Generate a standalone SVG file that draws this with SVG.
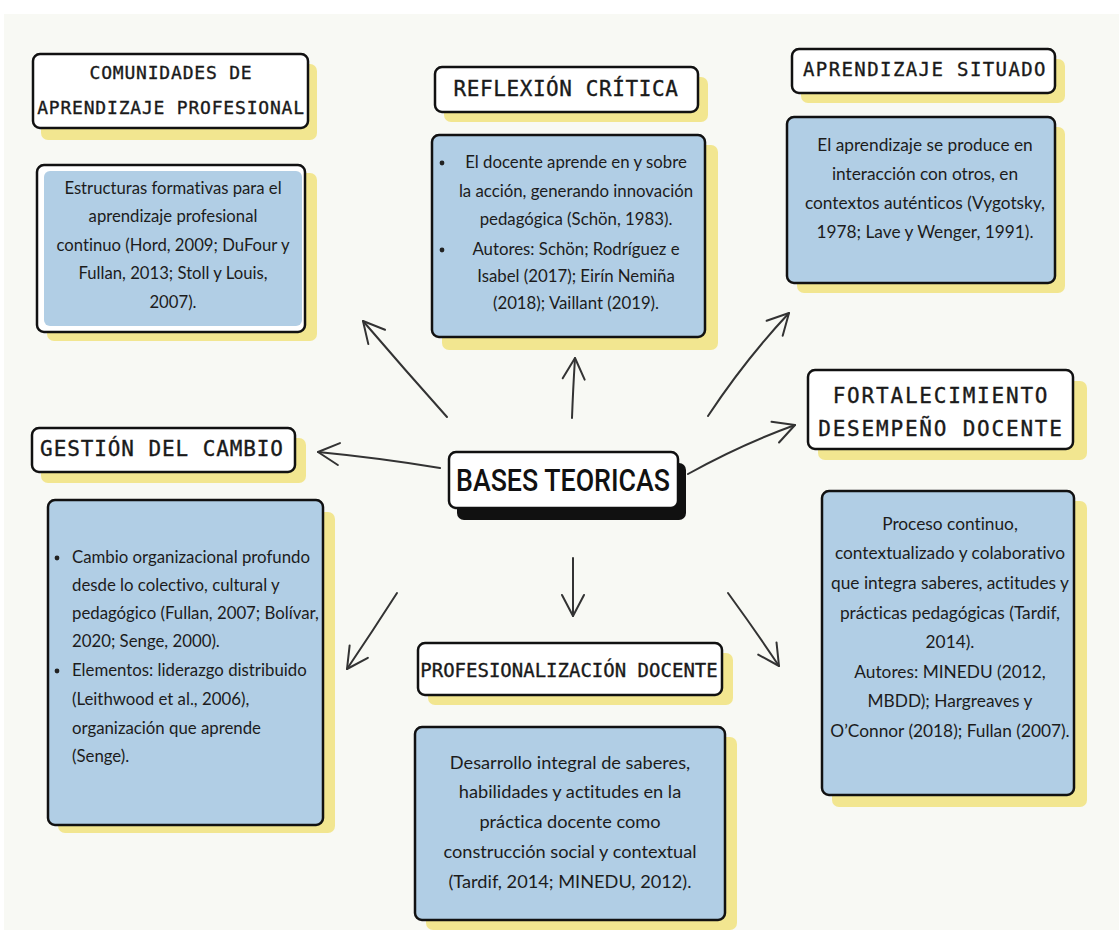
<svg xmlns="http://www.w3.org/2000/svg" width="1119" height="930" viewBox="0 0 1119 930">
<defs>
<style>
.bg{fill:#f8f9f4}
.sh{fill:#f2e690}
.blk{fill:#111}
.ttl{fill:#fff;stroke:#111;stroke-width:2.5}
.box{fill:#b1cee5;stroke:#111;stroke-width:2.5}
.t{font-family:"DejaVu Sans Mono",monospace;fill:#1a1a1a;stroke:#1a1a1a;stroke-width:0.35;text-anchor:middle}
.b{font-family:Lato,"Open Sans",sans-serif;fill:#1c1c1c;text-anchor:middle;font-variant-ligatures:none}
.bl{font-family:Lato,"Open Sans",sans-serif;fill:#1c1c1c;font-variant-ligatures:none}
.c{fill:none;stroke:#333;stroke-width:2;stroke-linecap:round}
</style>
<marker id="ah" viewBox="0 0 26 26" refX="23" refY="13" markerWidth="26" markerHeight="26" markerUnits="userSpaceOnUse" orient="auto">
<path d="M2,2 L23,13 L2,24" fill="none" stroke="#333" stroke-width="2" stroke-linecap="round" stroke-linejoin="round"/>
</marker>
</defs>
<rect width="1119" height="930" fill="#fff"/>
<rect class="bg" x="4" y="14" width="1115" height="916"/>

<g id="connectors">
<path class="c" d="M447,417 Q405,370 363,321" marker-end="url(#ah)"/>
<path class="c" d="M572,418 Q573,390 575,358" marker-end="url(#ah)"/>
<path class="c" d="M708,416 Q745,360 789,313" marker-end="url(#ah)"/>
<path class="c" d="M688,474 Q740,445 795,425" marker-end="url(#ah)"/>
<path class="c" d="M440,468 Q380,458 318,452" marker-end="url(#ah)"/>
<path class="c" d="M397,593 Q372,632 347,669" marker-end="url(#ah)"/>
<path class="c" d="M573,558 Q573,590 573,616" marker-end="url(#ah)"/>
<path class="c" d="M728,593 Q755,630 779,666" marker-end="url(#ah)"/>
</g>

<g id="bases-teoricas">
<rect class="blk" x="457" y="463" width="229" height="57" rx="7"/>
<rect class="ttl" x="449" y="452" width="229" height="56" rx="7"/>
<text x="563" y="491" font-family="Roboto,'Liberation Sans',sans-serif" font-weight="500" font-size="31" fill="#111" text-anchor="middle" textLength="214" lengthAdjust="spacingAndGlyphs">BASES TEORICAS</text>
</g>

<g id="comunidades-titulo">
<rect class="sh" x="41" y="64" width="276" height="76" rx="7"/>
<rect class="ttl" x="33" y="54" width="275" height="74" rx="7"/>
<text class="t" x="171" y="79" font-size="18" letter-spacing="0.8">COMUNIDADES DE</text>
<text class="t" x="171" y="114" font-size="18" letter-spacing="0.8">APRENDIZAJE PROFESIONAL</text>
</g>

<g id="comunidades-texto">
<rect class="sh" x="47" y="173" width="270" height="168" rx="7"/>
<rect class="ttl" x="37" y="165" width="268" height="167" rx="7"/>
<rect fill="#b1cee5" x="44" y="171" width="258" height="155" rx="6"/>
<text class="b" x="173" y="194" font-size="16.7">Estructuras formativas para el</text>
<text class="b" x="173" y="222" font-size="16.7">aprendizaje profesional</text>
<text class="b" x="173" y="251" font-size="16.7">continuo (Hord, 2009; DuFour y</text>
<text class="b" x="173" y="279" font-size="16.7">Fullan, 2013; Stoll y Louis,</text>
<text class="b" x="173" y="308" font-size="16.7">2007).</text>
</g>

<g id="reflexion-titulo">
<rect class="sh" x="444" y="77" width="264" height="45" rx="7"/>
<rect class="ttl" x="435" y="67" width="263" height="45" rx="7"/>
<text class="t" x="566" y="96" font-size="21" letter-spacing="0.6">REFLEXIÓN CRÍTICA</text>
</g>

<g id="reflexion-texto">
<rect class="sh" x="442" y="145" width="276" height="205" rx="7"/>
<rect class="box" x="432" y="135" width="273" height="202" rx="7"/>
<circle cx="442" cy="163" r="2.4" fill="#222"/>
<circle cx="442" cy="250" r="2.4" fill="#222"/>
<text class="b" x="576" y="168" font-size="16.8">El docente aprende en y sobre</text>
<text class="b" x="576" y="197" font-size="16.8">la acción, generando innovación</text>
<text class="b" x="576" y="225" font-size="16.8">pedagógica (Schön, 1983).</text>
<text class="b" x="576" y="255" font-size="16.8">Autores: Schön; Rodríguez e</text>
<text class="b" x="576" y="282" font-size="16.8">Isabel (2017); Eirín Nemiña</text>
<text class="b" x="576" y="309" font-size="16.8">(2018); Vaillant (2019).</text>
</g>

<g id="situado-titulo">
<rect class="sh" x="801" y="59" width="264" height="44" rx="7"/>
<rect class="ttl" x="792" y="49" width="263" height="44" rx="7"/>
<text class="t" x="925" y="76" font-size="19" letter-spacing="1.4">APRENDIZAJE SITUADO</text>
</g>

<g id="situado-texto">
<rect class="sh" x="797" y="127" width="268" height="166" rx="7"/>
<rect class="box" x="787" y="117" width="268" height="166" rx="7"/>
<text class="b" x="925" y="151" font-size="17.3">El aprendizaje se produce en</text>
<text class="b" x="925" y="180" font-size="17.3">interacción con otros, en</text>
<text class="b" x="925" y="209" font-size="17.3">contextos auténticos (Vygotsky,</text>
<text class="b" x="925" y="238" font-size="17.3">1978; Lave y Wenger, 1991).</text>
</g>

<g id="fortalecimiento-titulo">
<rect class="sh" x="818" y="381" width="269" height="79" rx="7"/>
<rect class="ttl" x="808" y="370" width="265" height="79" rx="7"/>
<text class="t" x="941" y="403" font-size="21" letter-spacing="1.8">FORTALECIMIENTO</text>
<text class="t" x="941" y="436" font-size="21" letter-spacing="1.8">DESEMPEÑO DOCENTE</text>
</g>

<g id="fortalecimiento-texto">
<rect class="sh" x="832" y="501" width="255" height="306" rx="7"/>
<rect class="box" x="822" y="491" width="252" height="304" rx="7"/>
<text class="b" x="950" y="530" font-size="17.3">Proceso continuo,</text>
<text class="b" x="950" y="559" font-size="17.3">contextualizado y colaborativo</text>
<text class="b" x="950" y="589" font-size="17.3">que integra saberes, actitudes y</text>
<text class="b" x="950" y="619" font-size="17.3">prácticas pedagógicas (Tardif,</text>
<text class="b" x="950" y="648" font-size="17.3">2014).</text>
<text class="b" x="950" y="678" font-size="17.3">Autores: MINEDU (2012,</text>
<text class="b" x="950" y="707" font-size="17.3">MBDD); Hargreaves y</text>
<text class="b" x="950" y="737" font-size="17.3">O’Connor (2018); Fullan (2007).</text>
</g>

<g id="gestion-titulo">
<rect class="sh" x="41" y="438" width="265" height="45" rx="7"/>
<rect class="ttl" x="32" y="428" width="263" height="44" rx="7"/>
<text class="t" x="162" y="456" font-size="21" letter-spacing="0.9">GESTIÓN DEL CAMBIO</text>
</g>

<g id="gestion-texto">
<rect class="sh" x="58" y="512" width="277" height="321" rx="7"/>
<rect class="box" x="48" y="500" width="275" height="325" rx="7"/>
<circle cx="57" cy="558" r="2.4" fill="#222"/>
<circle cx="57" cy="671" r="2.4" fill="#222"/>
<text class="bl" x="72" y="563" font-size="16.8">Cambio organizacional profundo</text>
<text class="bl" x="72" y="591" font-size="16.8">desde lo colectivo, cultural y</text>
<text class="bl" x="72" y="619" font-size="16.8">pedagógico (Fullan, 2007; Bolívar,</text>
<text class="bl" x="72" y="647" font-size="16.8">2020; Senge, 2000).</text>
<text class="bl" x="72" y="676" font-size="16.8">Elementos: liderazgo distribuido</text>
<text class="bl" x="72" y="705" font-size="16.8">(Leithwood et al., 2006),</text>
<text class="bl" x="72" y="734" font-size="16.8">organización que aprende</text>
<text class="bl" x="72" y="762" font-size="16.8">(Senge).</text>
</g>

<g id="profesionalizacion-titulo">
<rect class="sh" x="428" y="653" width="305" height="52" rx="7"/>
<rect class="ttl" x="418" y="643" width="304" height="52" rx="7"/>
<text class="t" x="569" y="677" font-size="19">PROFESIONALIZACIÓN DOCENTE</text>
</g>

<g id="profesionalizacion-texto">
<rect class="sh" x="426" y="737" width="311" height="193" rx="7"/>
<rect class="box" x="415" y="727" width="310" height="193" rx="7"/>
<text class="b" x="570" y="769" font-size="18.2">Desarrollo integral de saberes,</text>
<text class="b" x="570" y="798" font-size="18.2">habilidades y actitudes en la</text>
<text class="b" x="570" y="828" font-size="18.2">práctica docente como</text>
<text class="b" x="570" y="858" font-size="18.2">construcción social y contextual</text>
<text class="b" x="570" y="888" font-size="18.2">(Tardif, 2014; MINEDU, 2012).</text>
</g>
</svg>
